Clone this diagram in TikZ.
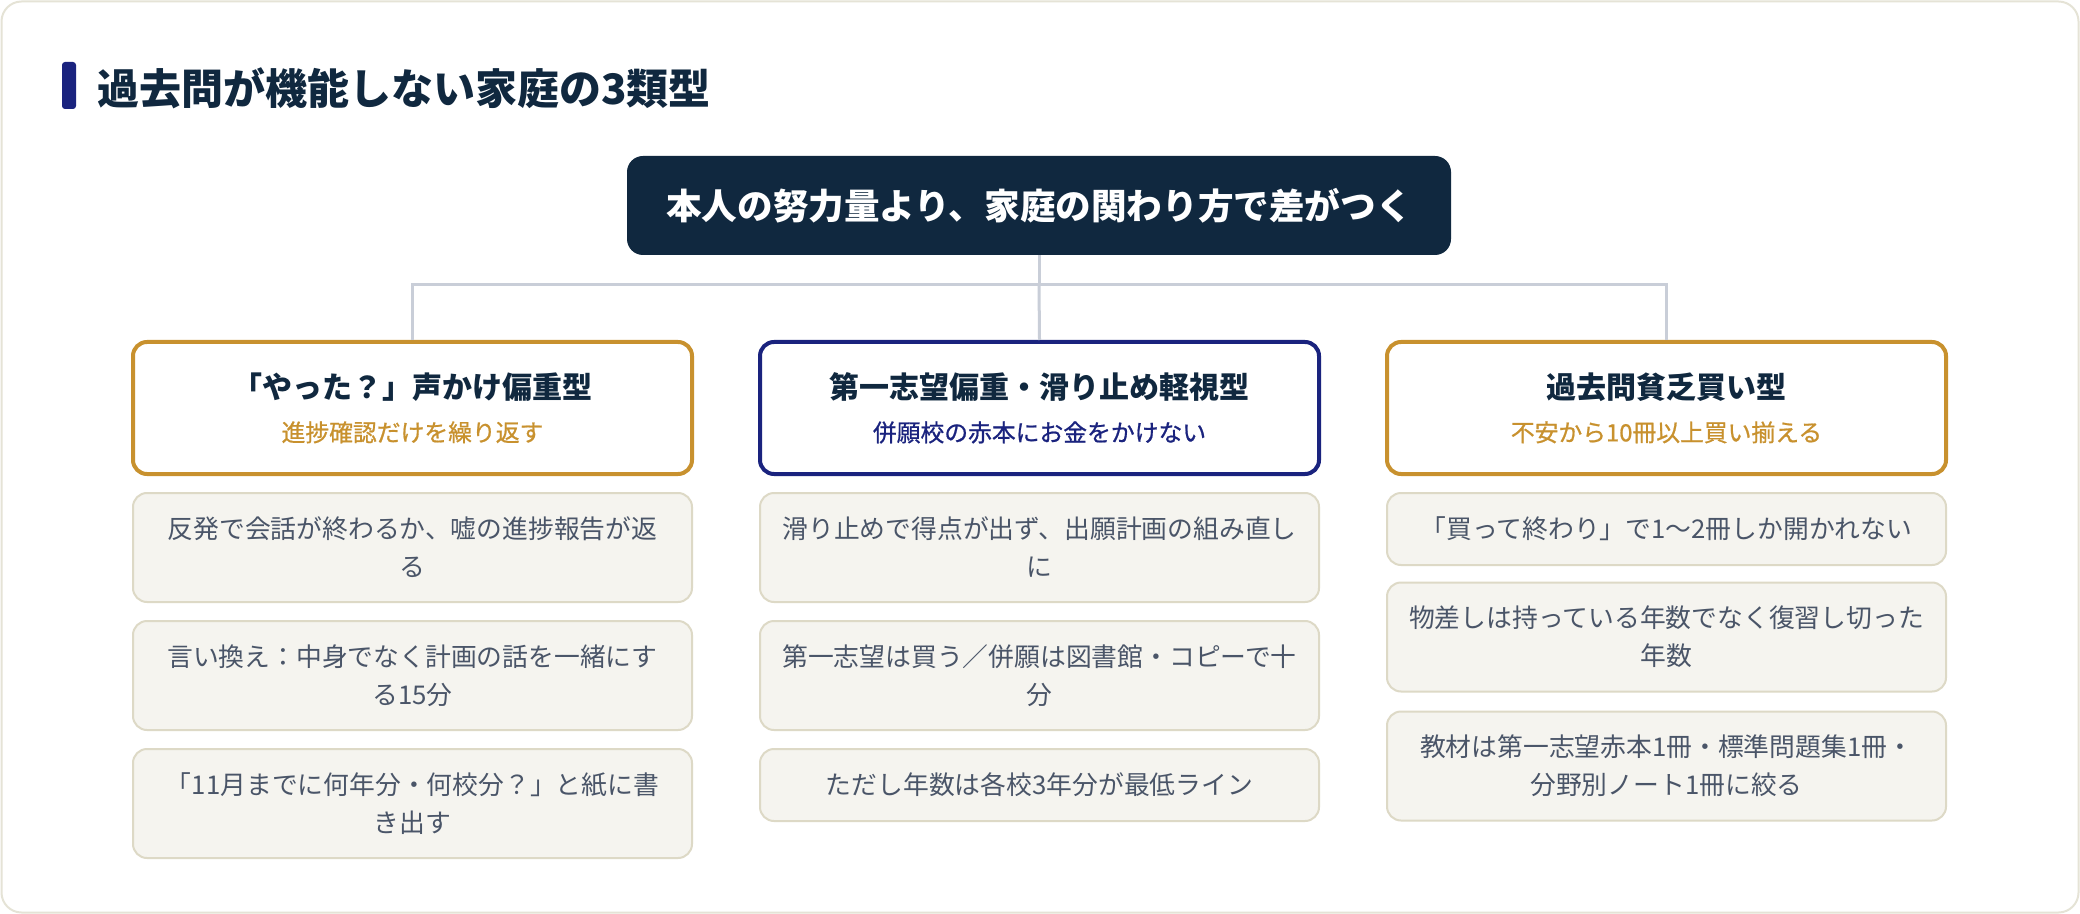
\documentclass[tikz,border=0pt]{standalone}
\usepackage{fontspec}
\setmainfont{Noto Sans CJK JP}
\newfontfamily\midfont[FakeBold=0.8]{Noto Sans CJK JP}
\usetikzlibrary{positioning}
\definecolor{inkNavy}{HTML}{10283F}
\definecolor{barNavy}{HTML}{1A237E}
\definecolor{goldLine}{HTML}{C8912E}
\definecolor{itemFill}{HTML}{F5F4EF}
\definecolor{itemLine}{HTML}{DDD9C6}
\definecolor{itemInk}{HTML}{4A5568}
\definecolor{linkGray}{HTML}{C9CED8}
\definecolor{frameLine}{HTML}{E5E3D6}

\begin{document}
\begin{tikzpicture}[x=0.5pt,y=-0.5pt,
        root/.style={fill=inkNavy, rounded corners=8pt, minimum width=412pt,
            minimum height=49.5pt, text=white,
            font=\bfseries\fontsize{17.8}{22}\selectfont},
        cat/.style={draw, line width=2pt, fill=white, rounded corners=7pt,
            minimum width=279.5pt, minimum height=66pt, align=center,
            font=\midfont\fontsize{11.9}{21.5}\selectfont},
        item/.style={draw=itemLine, line width=1pt, fill=itemFill,
            rounded corners=7pt, minimum width=279.5pt, minimum height=54.5pt,
            align=center, text=itemInk, font=\fontsize{12.9}{19}\selectfont},
        short/.style={minimum height=36pt},
        link/.style={draw=linkGray, line width=1.5pt}]
        \useasboundingbox (0,0) rectangle (2080,914);
        \draw [frameLine, line width=1pt, fill=white, rounded corners=10pt]
            (1.5,1.5) rectangle (2078.5,912.5);
        %% Heading
        \node [fill=barNavy, rounded corners=1.5pt, minimum width=7pt,
            minimum height=23.5pt, inner sep=0pt] at (69,85.5) (bar) {};
        \node [anchor=west, inner sep=0pt, text=inkNavy,
            font=\bfseries\fontsize{21}{25}\selectfont] at (97,88) (head)
            {過去問が機能しない家庭の3類型};
        %% Vertices
        \node [root] at (1039,205.5) (root) {本人の努力量より、家庭の関わり方で差がつく};
        \node [cat, draw=goldLine] at (412.5,408) (catA)
            {{\normalfont\bfseries\fontsize{15}{20}\selectfont\color{inkNavy}「やった？」声かけ偏重型}\\
             {\color{goldLine}進捗確認だけを繰り返す}};
        \node [cat, draw=barNavy] at (1039.5,408) (catB)
            {{\normalfont\bfseries\fontsize{15}{20}\selectfont\color{inkNavy}第一志望偏重・滑り止め軽視型}\\
             {\color{barNavy}併願校の赤本にお金をかけない}};
        \node [cat, draw=goldLine] at (1666.5,408) (catC)
            {{\normalfont\bfseries\fontsize{15}{20}\selectfont\color{inkNavy}過去問貧乏買い型}\\
             {\color{goldLine}不安から10冊以上買い揃える}};
        %% Items
        \node [item] at (412.5,547.5) (a1) {反発で会話が終わるか、嘘の進捗報告が返\\る};
        \node [item] at (412.5,675.5) (a2) {言い換え：中身でなく計画の話を一緒にす\\る15分};
        \node [item] at (412.5,803.5) (a3) {「11月までに何年分・何校分？」と紙に書\\き出す};
        \node [item] at (1039.5,547.5) (b1) {滑り止めで得点が出ず、出願計画の組み直し\\に};
        \node [item] at (1039.5,675.5) (b2) {第一志望は買う／併願は図書館・コピーで十\\分};
        \node [item, short] at (1039.5,785) (b3) {ただし年数は各校3年分が最低ライン};
        \node [item, short] at (1666.5,529) (c1) {「買って終わり」で1〜2冊しか開かれない};
        \node [item] at (1666.5,637) (c2) {物差しは持っている年数でなく復習し切った\\年数};
        \node [item] at (1666.5,766) (c3) {教材は第一志望赤本1冊・標準問題集1冊・\\分野別ノート1冊に絞る};
        %% Arcs
        \coordinate (bus) at (1039,285);
        \path [link] (root.south) -- (bus) -| (catA.north);
        \path [link] (bus) -| (catC.north);
        \path [link] (bus) -- (catB.north);
    \end{tikzpicture}
\end{document}
